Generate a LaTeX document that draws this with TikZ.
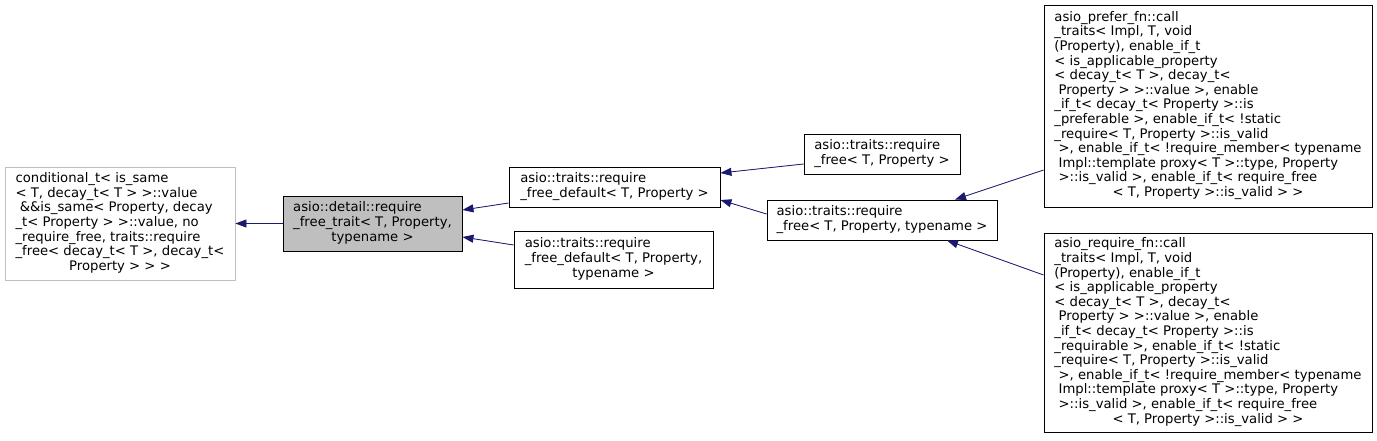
\documentclass[tikz,border=0pt]{standalone}
\usepackage{fontspec}
\setmainfont{DejaVu Sans}
\usetikzlibrary{arrows.meta}
\definecolor{edgeblue}{HTML}{191970}
\definecolor{greyfill}{HTML}{BFBFBF}
\newcommand{\dxtab}[1]{\begin{tabular}{@{}l@{}}#1\end{tabular}}
\newcommand{\dxlast}[1]{\multicolumn{1}{@{}c@{}}{#1}}
\tikzset{
  cls/.style={draw=black, line width=0.9pt, fill=white, inner sep=0pt, font=\fontsize{13.2}{14.6}\selectfont},
  nolink/.style={cls, draw=greyfill},
  cur/.style={cls, fill=greyfill},
  inh/.style={draw=edgeblue, line width=0.8pt, -{Triangle[length=11pt,width=8pt]}, fill=edgeblue}
}
\begin{document}
\begin{tikzpicture}[x=1pt,y=-1pt]
\useasboundingbox (0,0) rectangle (1377,440);
\fill[white] (0,0) rectangle (1377,440);
\node[nolink, minimum width=230pt, minimum height=113pt] (A) at (120,223.5) {\dxtab{%
conditional\_t< is\_same\\
< T, decay\_t< T > >::value\\
\ \&\&is\_same< Property, decay\\
\_t< Property > >::value, no\\
\_require\_free, traits::require\\
\_free< decay\_t< T >, decay\_t<\\
\dxlast{Property > > >}}};
\node[cur, minimum width=179pt, minimum height=55pt] (B) at (372.5,223.5) {\dxtab{%
asio::detail::require\\
\_free\_trait< T, Property,\\
\dxlast{typename >}}};
\node[cls, minimum width=211pt, minimum height=40pt] (C) at (614.5,187) {\dxtab{%
asio::traits::require\\
\dxlast{\_free\_default< T, Property >}}};
\node[cls, minimum width=199pt, minimum height=57pt] (D) at (613.5,259.5) {\dxtab{%
asio::traits::require\\
\_free\_default< T, Property,\\
\dxlast{typename >}}};
\node[cls, minimum width=156pt, minimum height=40pt] (E) at (882,154) {\dxtab{%
asio::traits::require\\
\dxlast{\_free< T, Property >}}};
\node[cls, minimum width=230pt, minimum height=40pt] (F) at (882,220) {\dxtab{%
asio::traits::require\\
\dxlast{\_free< T, Property, typename >}}};
\node[cls, minimum width=328pt, minimum height=202pt] (G) at (1208,106) {\dxtab{%
asio\_prefer\_fn::call\\
\_traits< Impl, T, void\\
(Property), enable\_if\_t\\
< is\_applicable\_property\\
< decay\_t< T >, decay\_t<\\
\ Property > >::value >, enable\\
\_if\_t< decay\_t< Property >::is\\
\_preferable >, enable\_if\_t< !static\\
\_require< T, Property >::is\_valid\\
\ >, enable\_if\_t< !require\_member< typename\\
\ Impl::template proxy< T >::type, Property\\
\ >::is\_valid >, enable\_if\_t< require\_free\\
\dxlast{< T, Property >::is\_valid > >}}};
\node[cls, minimum width=328pt, minimum height=199pt] (H) at (1208,332.5) {\dxtab{%
asio\_require\_fn::call\\
\_traits< Impl, T, void\\
(Property), enable\_if\_t\\
< is\_applicable\_property\\
< decay\_t< T >, decay\_t<\\
\ Property > >::value >, enable\\
\_if\_t< decay\_t< Property >::is\\
\_requirable >, enable\_if\_t< !static\\
\_require< T, Property >::is\_valid\\
\ >, enable\_if\_t< !require\_member< typename\\
\ Impl::template proxy< T >::type, Property\\
\ >::is\_valid >, enable\_if\_t< require\_free\\
\dxlast{< T, Property >::is\_valid > >}}};
\draw[inh] (B.west) -- (A.east);
\draw[inh] ([yshift=-16pt]C.west) -- ([yshift=13.5pt]B.east);
\draw[inh] ([yshift=14.5pt]D.west) -- ([yshift=-13.5pt]B.east);
\draw[inh] ([yshift=-10pt]E.west) -- ([yshift=14pt]C.east);
\draw[inh] ([yshift=6pt]F.west) -- ([yshift=-13pt]C.east);
\draw[inh] ([yshift=-64pt]G.west) -- ([xshift=73pt]F.north);
\draw[inh] ([yshift=57.5pt]H.west) -- ([xshift=65pt]F.south);
\end{tikzpicture}
\end{document}
